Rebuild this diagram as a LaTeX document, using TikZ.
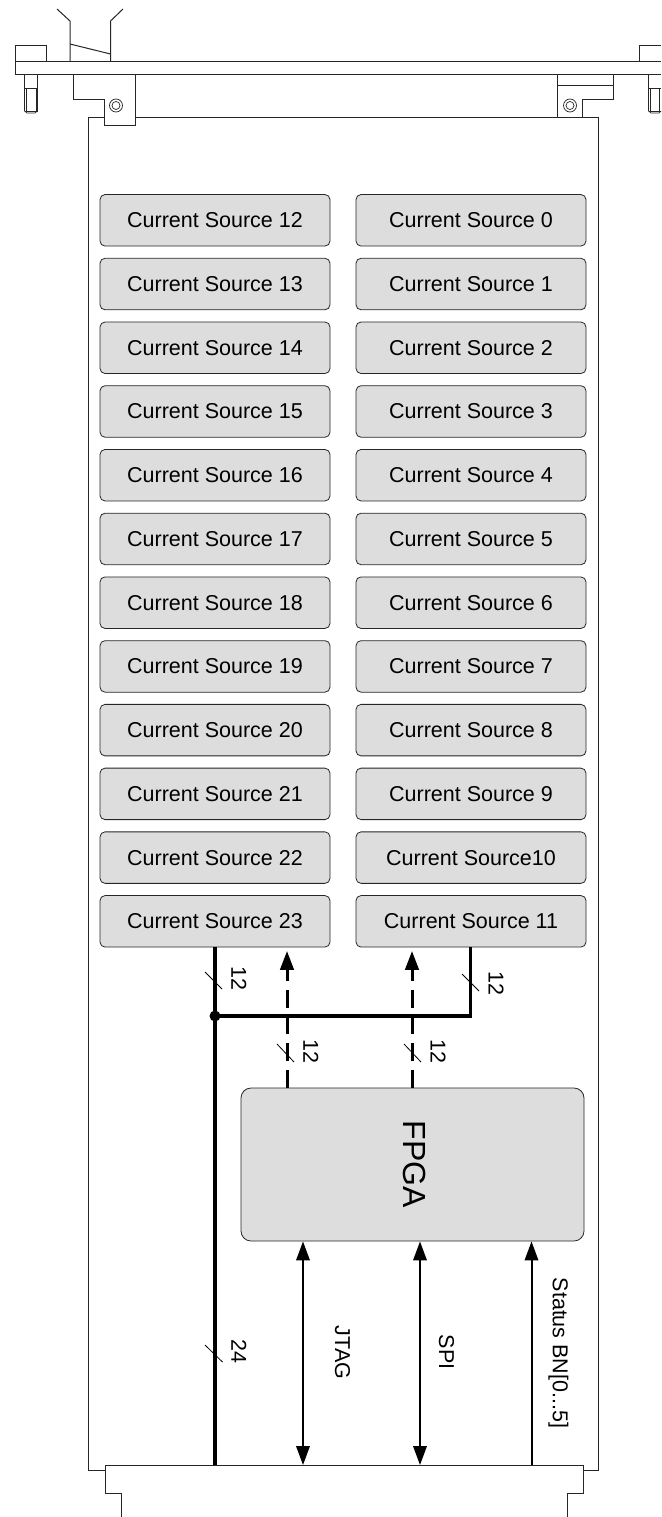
\documentclass[tikz,border=0pt]{standalone}
\usepackage{fontspec}
\setmainfont{Liberation Sans}
\usetikzlibrary{arrows.meta}
\definecolor{boxgray}{RGB}{221,221,221}
\tikzset{
  x=1pt,y=-1pt,
  mech/.style={draw=black!85,line width=1pt,line join=miter},
  mechthin/.style={mech,line width=0.7pt},
  csbox/.style={draw=black!85,fill=boxgray,line width=0.8pt,rounded corners=5pt,minimum width=230pt,minimum height=51.5pt,inner sep=0pt,font=\fontsize{21.5}{24}\selectfont},
  fpgabox/.style={draw=black!85,fill=boxgray,line width=0.8pt,rounded corners=10pt,minimum width=343pt,minimum height=153pt,inner sep=0pt},
  bus/.style={line width=3.6pt,line cap=butt},
  dbus/.style={line width=3pt,dash pattern=on 17.7pt off 9pt},
  sig/.style={line width=2pt},
  tip/.style={-{Triangle[length=19pt,width=13.5pt]}},
  tips/.style={{Triangle[length=19pt,width=13.5pt]}-{Triangle[length=19pt,width=13.5pt]}},
  tick/.style={line width=0.8pt},
  lab/.style={rotate=-90,inner sep=0pt,font=\fontsize{21.5}{24}\selectfont},
}
\begin{document}
\begin{tikzpicture}
\useasboundingbox (0,0) rectangle (661,1517);
% mechanics: front panel
\draw[mech] (15,62) -- (661,62);
\draw[mech] (15,74.5) -- (661,74.5);
\draw[mech] (15,62) -- (15,74.5);
\draw[mech] (15,62) -- (15,46) -- (46.5,46) -- (46.5,62);
\draw[mech] (639.5,62) -- (639.5,46) -- (661,46);
\draw[mechthin] (20,45.3) -- (29,45.3) (33,45.3) -- (42,45.3);
\draw[mechthin] (644,45.3) -- (653,45.3) (657,45.3) -- (661,45.3);
\draw[mechthin] (24.5,74.5) -- (24.5,111) -- (27,113) -- (35,113) -- (37.5,111) -- (37.5,74.5);
\draw[mechthin] (26,88) -- (26,111) (36,88) -- (36,111);
\draw[mechthin] (24.5,88) -- (37.5,88) (24.5,111) -- (37.5,111);
\draw[mechthin] (648.5,74.5) -- (648.5,111) -- (651,113) -- (659,113) -- (661,111);
\draw[mechthin] (650,88) -- (650,111) (659.5,88) -- (659.5,111);
\draw[mechthin] (648.5,88) -- (661,88) (648.5,111) -- (661,111);
% handle
\draw[mech] (57,9) -- (70,21) -- (70,62);
\draw[mech] (123,9) -- (110.5,21) -- (110.5,62);
\draw[mech] (70,44) -- (110.5,54);
% brackets
\draw[mech] (73,74.5) -- (73,99.5) -- (104,99.5) -- (104,125.5) -- (135.5,125.5) -- (135.5,74.5);
\draw[mech] (557,74.5) -- (557,117.5) -- (582.5,117.5) -- (582.5,99.5) -- (613,99.5) -- (613,74.5);
\draw[mech] (557,85.5) -- (613,85.5);
\draw[mechthin] (116,105.5) circle (6.5pt) (116,105.5) circle (4pt);
\draw[mechthin] (570,105.5) circle (6.5pt) (570,105.5) circle (4pt);
% board outline
\draw[mech] (104,117.5) -- (88,117.5) -- (88,1470) -- (105,1470);
\draw[mech] (135.5,117.5) -- (557,117.5);
\draw[mech] (582.5,117.5) -- (598,117.5) -- (598,1470) -- (583,1470);
% backplane connector
\draw[mech] (121,1517) -- (121,1493) -- (105,1493) -- (105,1465) -- (583,1465) -- (583,1493) -- (567,1493) -- (567,1517);
\coordinate (conn) at (300,1465);
% current sources
\foreach \i/\n in {0/12,1/13,2/14,3/15,4/16,5/17,6/18,7/19,8/20,9/21,10/22,11/23}{
  \node[csbox] (cs\n) at (215,{220.3+63.73*\i}) {Current Source \n};
}
\foreach \i/\t [count=\k from 0] in {0/Current Source 0,1/Current Source 1,2/Current Source 2,3/Current Source 3,4/Current Source 4,5/Current Source 5,6/Current Source 6,7/Current Source 7,8/Current Source 8,9/Current Source 9,10/Current Source10,11/Current Source 11}{
  \node[csbox] (cs\i) at (471,{220.3+63.73*\k}) {\t};
}
\node[fpgabox] (fpga) at (412.5,1164.5) {};
\node[rotate=-90,inner sep=0pt,font=\fontsize{32}{36}\selectfont] (fpgatext) at (415,1164.5) {FPGA};
% buses
\coordinate (j) at (215,1016);
\coordinate (jr) at (470.5,1016);
\draw[bus] (cs23.south -| j) -- (conn -| j);
\draw[bus,line join=miter] (j) -- (jr) -- (cs11.south -| jr);
\fill (j) circle (5.5pt);
\coordinate (da) at (287,1000);
\coordinate (db) at (412,1000);
\draw[dbus,tip] (fpga.north -| da) -- ([yshift=-3.5pt]da |- cs23.south);
\draw[dbus,tip] (fpga.north -| db) -- ([yshift=-3.5pt]db |- cs11.south);
% lower signals
\coordinate (jt) at (303,1300);
\coordinate (sp) at (420,1300);
\coordinate (st) at (531.5,1300);
\draw[sig,tips] (fpga.south -| jt) -- (conn -| jt);
\draw[sig,tips] (fpga.south -| sp) -- (conn -| sp);
\draw[sig,tip] (conn -| st) -- (fpga.south -| st);
% ticks
\draw[tick] (205,972) -- (222,989);
\draw[tick] (462,974) -- (479,991);
\draw[tick] (277,1044) -- (294,1062);
\draw[tick] (404,1044) -- (421,1062);
\draw[tick] (205,1345) -- (222.5,1362);
% labels
\node[lab] (l1) at (239,978) {12};
\node[lab] (l2) at (496,983) {12};
\node[lab] (l3) at (311,1051) {12};
\node[lab] (l4) at (438,1051) {12};
\node[lab] (l5) at (239,1351) {24};
\node[lab] (l6) at (342.5,1352.5) {JTAG};
\node[lab] (l7) at (446.5,1352) {SPI};
\node[lab] (l8) at (558.5,1353) {Status BN[0...5]};
\end{tikzpicture}
\end{document}
